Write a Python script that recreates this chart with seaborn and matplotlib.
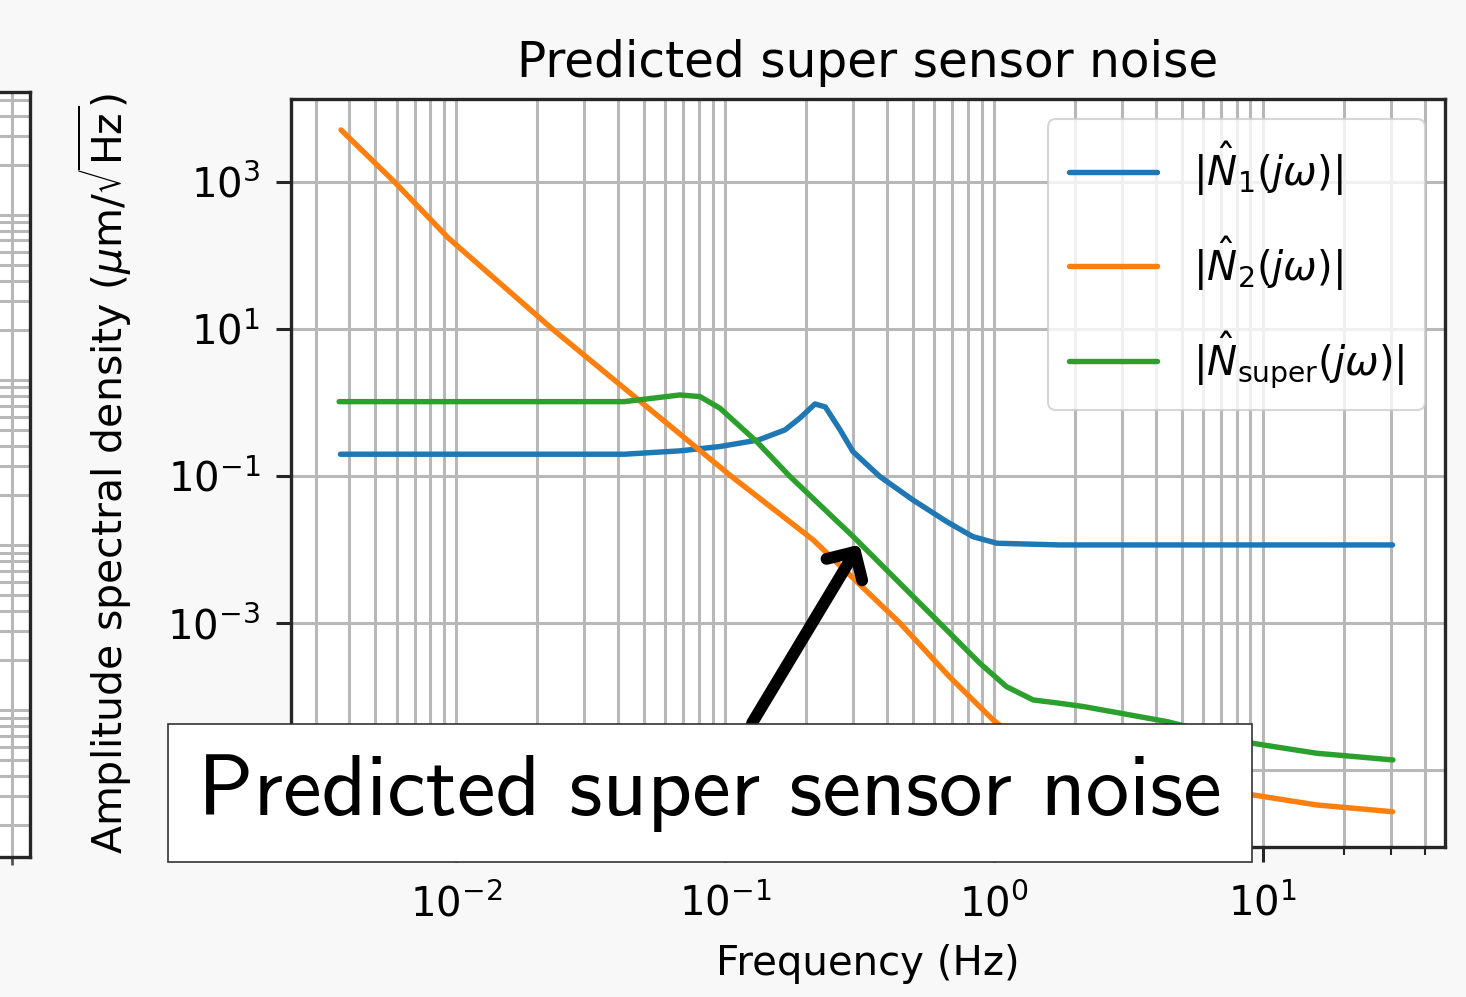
import numpy as np
import pandas as pd
import matplotlib
matplotlib.use("Agg")
import matplotlib.pyplot as plt
import seaborn as sns
from matplotlib.ticker import (LogLocator, NullLocator, FixedLocator, NullFormatter,
                               LogFormatterSciNotation, FuncFormatter)

# ---------------- data ----------------
freq_n1 = [0.00371, 0.0422, 0.068, 0.0958, 0.133, 0.167, 0.19, 0.216, 0.236,
           0.268, 0.299, 0.377, 0.5, 0.668, 0.835, 1.026, 1.76, 30.4]
asd_n1 = [0.198, 0.198, 0.22, 0.252, 0.309, 0.423, 0.615, 0.954, 0.869,
          0.423, 0.215, 0.0982, 0.0473, 0.024, 0.01503, 0.01222, 0.01159, 0.01159]

freq_n2 = [0.00373, 0.00588, 0.00937, 0.02275, 0.1052, 0.2128, 0.448, 0.683,
           0.994, 1.45, 2.9, 9.19, 15.86, 30.4]
asd_n2 = [5040, 1000, 170, 10.0, 0.1, 0.01355, 0.001, 1.88e-4,
          4.85e-5, 1.6e-5, 6.5e-6, 4.65e-6, 3.40e-6, 2.75e-6]

freq_super = [0.00367, 0.0422, 0.068, 0.0807, 0.0958, 0.1312, 0.1746, 0.2998,
              0.4347, 0.63, 0.887, 1.114, 1.4, 1.758, 2.166, 4.42, 9.18, 15.85, 30.5]
asd_super = [1.026, 1.026, 1.265, 1.2, 0.834, 0.293, 0.0982, 0.01503,
             0.00387, 0.001, 2.86e-4, 1.377e-4, 9.08e-5, 8.18e-5, 7.36e-5,
             4.6e-5, 2.34e-5, 1.714e-5, 1.39e-5]

labels = [r'$|\hat{N}_1(j\omega)|$', r'$|\hat{N}_2(j\omega)|$',
          r'$|\hat{N}_{\rm super}(j\omega)|$']
colors = ['#1f77b4', '#ff7f0e', '#2ca02c']
title = 'Predicted super sensor noise'
xlabel = 'Frequency (Hz)'
ylabel = r'Amplitude spectral density ($\mu$m/$\sqrt{\rm Hz}$)'
annotation = 'Predicted super sensor noise'
yticks = [1e-5, 1e-3, 1e-1, 1e1, 1e3]
ytick_hidden = [1e-5]   # label sits behind the annotation box in the reference

# ---------------- style ----------------
sns.set_theme(style='ticks')
plt.rcParams['font.family'] = ['DejaVu Sans']
plt.rcParams['mathtext.fontset'] = 'dejavusans'
for k in ['text.color', 'axes.labelcolor', 'xtick.labelcolor', 'ytick.labelcolor']:
    plt.rcParams[k] = 'black'

W, H = 1466, 997
fig = plt.figure(figsize=(W / 100, H / 100), dpi=100, facecolor='#f8f8f8')

spine_c = '#262626'
grid_c = '#b8b8b8'

# partially visible neighbouring subplot at the far left
ax0 = fig.add_axes([-500 / W, 1 - 857 / H, 530 / W, (857 - 92) / H])
ax0.set_facecolor('white')
ax0.set_yscale('log')
ax0.set_ylim(10 ** -3.891, 10 ** 0.745)
ax0.set_xlim(0, 1)
ax0.xaxis.set_major_locator(FixedLocator([(12 + 500) / 530]))
ax0.yaxis.set_major_locator(LogLocator(base=10, numticks=20))
ax0.yaxis.set_minor_locator(LogLocator(base=10, subs=np.arange(2, 10), numticks=50))
ax0.grid(True, which='both', color=grid_c, lw=2.2)
ax0.tick_params(labelbottom=False, labelleft=False, length=6, width=2, color='#555555')
ax0.tick_params(which='minor', left=False)
for s in ax0.spines.values():
    s.set_linewidth(2.4)
    s.set_color(spine_c)

# main axes
ax = fig.add_axes([291 / W, 1 - 847 / H, (1445 - 291) / W, (847 - 99) / H])
ax.set_facecolor('white')
ax.set_xscale('log')
ax.set_yscale('log')

for f, v, lab, c in zip([freq_n1, freq_n2, freq_super], [asd_n1, asd_n2, asd_super], labels, colors):
    df = pd.DataFrame({'f': f, 'v': v})
    sns.lineplot(data=df, x='f', y='v', ax=ax, color=c, lw=3.9, label=lab, sort=True)

ax.set_xlim(10 ** -2.6145, 10 ** 1.678)
ax.set_ylim(10 ** -6.04, 10 ** 4.123)

sci = LogFormatterSciNotation()
ax.yaxis.set_major_locator(FixedLocator(yticks))
ax.yaxis.set_major_formatter(FuncFormatter(
    lambda v, p: '' if any(abs(v - h) < h * 1e-6 for h in ytick_hidden) else sci(v, p)))
ax.yaxis.set_minor_locator(NullLocator())
ax.xaxis.set_major_locator(LogLocator(base=10, numticks=20))
ax.xaxis.set_minor_locator(LogLocator(base=10, subs=np.arange(2, 10), numticks=50))
ax.xaxis.set_minor_formatter(NullFormatter())

ax.grid(True, which='both', color=grid_c, lw=2.2)
ax.tick_params(which='major', length=11, width=2.2, labelsize=29, color=spine_c)
ax.tick_params(axis='x', which='major', pad=16)
ax.tick_params(axis='y', which='major', pad=11)
ax.tick_params(which='minor', length=5.5, width=1.5, color=spine_c)
for s in ax.spines.values():
    s.set_linewidth(2.4)
    s.set_color(spine_c)

ax.set_title(title, fontsize=35, pad=16, color='black')
ax.set_xlabel(xlabel, fontsize=29, labelpad=13)
ax.set_ylabel(ylabel, fontsize=29.5, labelpad=24)

leg = ax.legend(loc='upper right', fontsize=29, handlelength=2.2, handletextpad=0.9,
                labelspacing=0.9, borderpad=0.5, framealpha=0.8, edgecolor='#cccccc',
                fancybox=True)
leg.get_frame().set_linewidth(1.5)
for ln in leg.get_lines():
    ln.set_linewidth(3.9)
for t in leg.get_texts():
    t.set_color('black')

ax.annotate(annotation, xy=(0.316, 0.0117), xycoords='data',
            xytext=(710, H - 793), textcoords='figure pixels',
            ha='center', va='center', fontsize=62.5, color='black',
            family=['cmss10', 'DejaVu Sans'],
            bbox=dict(boxstyle='square,pad=0.35', fc='white', ec='#333333', lw=1.2),
            arrowprops=dict(arrowstyle='->,head_length=0.24,head_width=0.24', lw=8.5,
                            color='black', shrinkA=0, shrinkB=0,
                            capstyle='round', joinstyle='round'),
            annotation_clip=False, zorder=10)

fig.savefig('out.png', dpi=100, facecolor=fig.get_facecolor())
